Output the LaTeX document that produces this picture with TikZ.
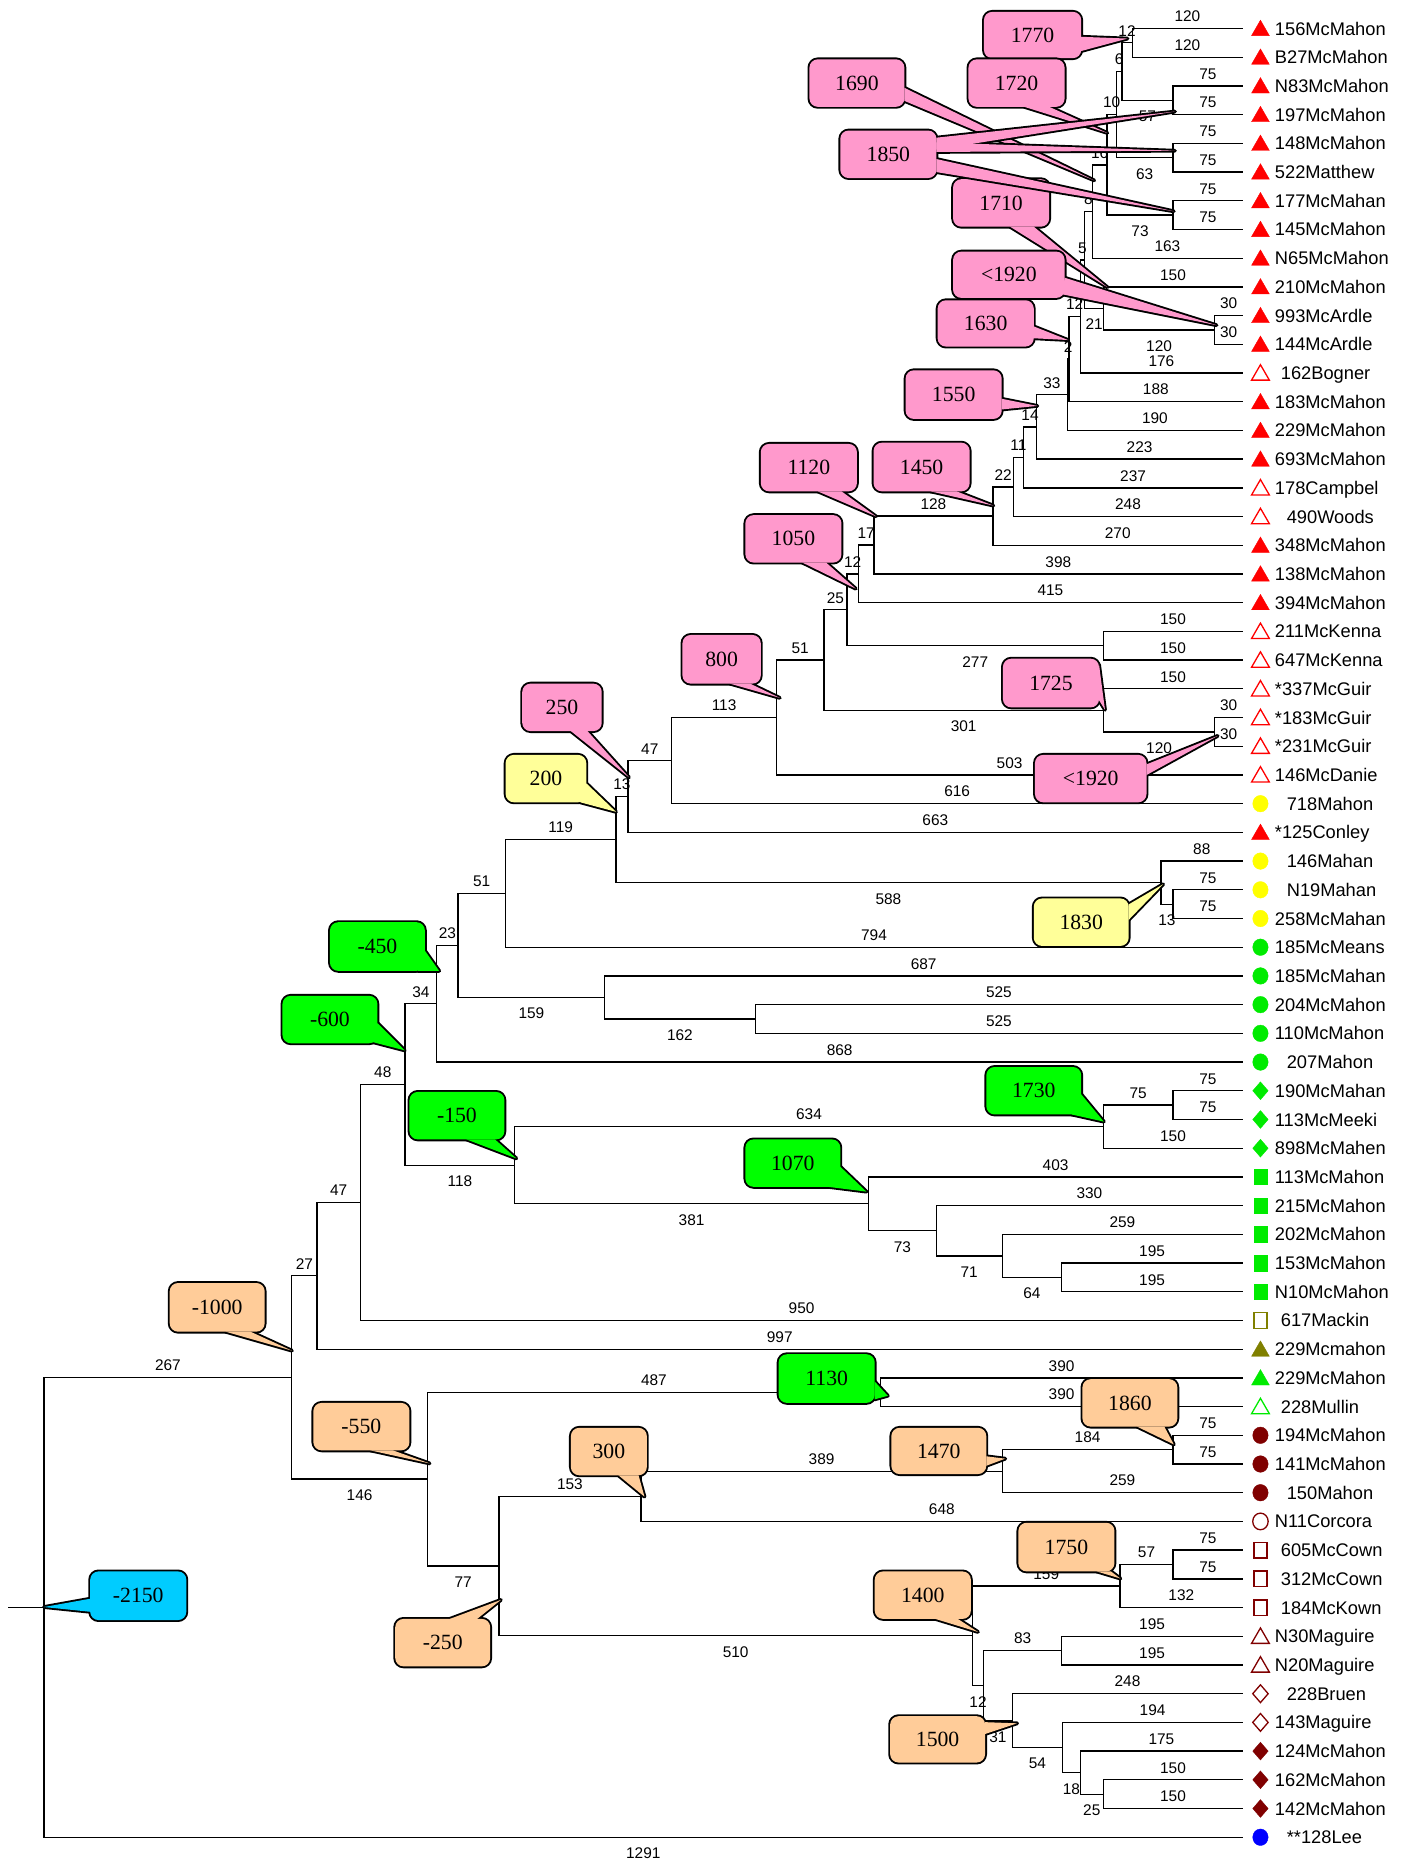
\documentclass[tikz,border=0pt]{standalone}
\usepackage{fontspec}
\setmainfont{Liberation Sans}
\newfontfamily\cserif{Liberation Serif}
\usetikzlibrary{calc}
\definecolor{tred}{RGB}{255,0,0}
\definecolor{dred}{RGB}{128,0,0}
\definecolor{olv}{RGB}{128,128,0}
\definecolor{symg}{RGB}{0,235,0}
\definecolor{yel}{RGB}{255,255,0}
\definecolor{pinkc}{RGB}{255,153,204}
\definecolor{yelc}{RGB}{255,255,153}
\definecolor{greenc}{RGB}{0,255,0}
\definecolor{peach}{RGB}{255,204,153}
\definecolor{cyanc}{RGB}{0,204,255}
\tikzset{
  br/.style={line width=1.1pt, draw=black},
  lab/.style={font=\fontsize{13}{14}\selectfont, inner sep=0pt},
  leaf/.style={font=\fontsize{15.4}{17}\selectfont, inner sep=0pt, anchor=base west},
  cline/.style={line width=3.2pt, line join=round, draw=black},
  ctext/.style={font={\cserif\fontsize{18.3}{20}\selectfont}, inner sep=0pt},
  symFR/.style={fill=tred, draw=tred, line width=.3pt},
  symOR/.style={draw=tred, fill=white, line width=1.1pt},
  symY/.style={fill=yel, draw=yel, line width=.3pt},
  symG/.style={fill=symg, draw=symg, line width=.3pt},
  symGO/.style={draw=symg, fill=white, line width=1.1pt},
  symOL/.style={draw=olv, fill=white, line width=1.1pt},
  symOLF/.style={fill=olv, draw=olv, line width=.3pt},
  symDR/.style={fill=dred, draw=dred, line width=.3pt},
  symDRO/.style={draw=dred, fill=white, line width=1.1pt},
  symB/.style={fill=blue, draw=blue, line width=.3pt}
}
\newcounter{bl}
\newcommand\BA[3]{\stepcounter{bl}\draw[br] (#1) |- node[lab,pos=.75,above=5pt] (bl\thebl) {#3} (#2);}
\newcommand\BB[3]{\stepcounter{bl}\draw[br] (#1) |- node[lab,pos=.75,below=8.5pt] (bl\thebl) {#3} (#2);}
\newcommand\sTri[2]{\draw[#2,shift={(#1)}] (7.5,6) -- (22.5,6) -- (15,-7) -- cycle;}
\newcommand\sCir[2]{\draw[#2,shift={(#1)}] (15,0) ellipse [x radius=6.5pt,y radius=7pt];}
\newcommand\sSq[2]{\draw[#2,shift={(#1)}] (9.5,-6.5) rectangle (20.5,6.5);}
\newcommand\sDia[2]{\draw[#2,shift={(#1)}] (15,-7.5) -- (21.5,0) -- (15,7.5) -- (8.5,0) -- cycle;}
\newcommand\lf[5]{\node[leaf] (t#1) at ([xshift=#2pt,yshift=-5.5pt]L#1) {#3}; #4{L#1}{#5}}
\newcommand\CB[3]{\draw[cline,fill=#1,rounded corners=7pt] (#2) rectangle (#3);}
\newcommand\CBF[3]{\fill[#1,rounded corners=7pt] (#2) rectangle (#3);}
\newcommand\CW[4]{\draw[cline,fill=#1] (#2) -- (#3) -- (#4) -- cycle;}
\newcommand\CWF[4]{\fill[#1] (#2) -- (#3) -- (#4) -- cycle;}
\newcommand\CO[8]{\CB{#1}{#2}{#3}\CW{#1}{#4}{#5}{#6}\CBF{#1}{#2}{#3}\CWF{#1}{#4}{#5}{#6}\node[ctext] (#7) at ($(#2)!.5!(#3)$) {#8};}
\begin{document}
\begin{tikzpicture}[x=1pt,y=-1pt]
\path[use as bounding box, fill=white] (0,0) rectangle (1186,1568);
\begin{scope}[shift={(37,-0.19)}, x=0.78234pt, y=-24.19pt]
\foreach \i in {1,...,64}{\coordinate (L\i) at (1291,\i);}
\coordinate (rs) at (-38.35,55.993);
\coordinate (root) at (0,55.993);
\coordinate (a1000) at (267,47.986);
\coordinate (a27) at (294,44.445);
\coordinate (a47b) at (341,41.891);
\coordinate (a600) at (389,37.781);
\coordinate (a34) at (423,34.969);
\coordinate (a23) at (446,32.938);
\coordinate (a51b) at (497,31.125);
\coordinate (a119) at (616,29.25);
\coordinate (a13) at (629,27.75);
\coordinate (a47) at (676,26.5);
\coordinate (a800) at (789,25);
\coordinate (a51) at (840,22.999);
\coordinate (a25) at (865,21.248);
\coordinate (a12c) at (877,19.996);
\coordinate (a17) at (894,18.992);
\coordinate (a128) at (1022,17.985);
\coordinate (a22) at (1044,16.970);
\coordinate (a11) at (1055,15.939);
\coordinate (a14) at (1069,14.879);
\coordinate (a33) at (1102,13.758);
\coordinate (a2) at (1104,12.516);
\coordinate (a12b) at (1116,11.031);
\coordinate (a5) at (1121,9.0625);
\coordinate (a8) at (1129,7.375);
\coordinate (a16) at (1145,5.75);
\coordinate (a10) at (1155,4);
\coordinate (a6) at (1161,2.5);
\coordinate (a12) at (1172,1.5);
\coordinate (a75a) at (1216,3.5);
\coordinate (a75b) at (1216,5.5);
\coordinate (a75c) at (1216,7.5);
\coordinate (a21) at (1141,10.75);
\coordinate (aMcA) at (1261,11.5);
\coordinate (aMcK) at (1141,22.5);
\coordinate (a1725) at (1141,24.75);
\coordinate (aMcG) at (1261,25.5);
\coordinate (a1830) at (1203,30.75);
\coordinate (a13b) at (1216,31.5);
\coordinate (a159) at (604,34.75);
\coordinate (a162) at (766,35.5);
\coordinate (a150) at (507,40.594);
\coordinate (a1730) at (1141,39.25);
\coordinate (a75d) at (1216,38.5);
\coordinate (a1070) at (888,41.938);
\coordinate (a73) at (961,42.875);
\coordinate (a71) at (1032,43.75);
\coordinate (a64) at (1096,44.5);
\coordinate (a550) at (413,51.527);
\coordinate (a1130) at (901,48.5);
\coordinate (a77) at (490,54.555);
\coordinate (a300) at (643,52.125);
\coordinate (a1470) at (1032,51.25);
\coordinate (a1860) at (1216,50.5);
\coordinate (a1400) at (1000,56.984);
\coordinate (a1750) at (1159,55.25);
\coordinate (a57) at (1216,54.5);
\coordinate (a12d) at (1012,58.719);
\coordinate (a83) at (1096,57.5);
\coordinate (a31) at (1043,59.938);
\coordinate (a54) at (1097,60.875);
\coordinate (a18) at (1116,61.75);
\coordinate (a25b) at (1141,62.5);
\draw[br] (rs) -- (root);
\BA{a12}{L1}{120} \BA{a12}{L2}{120}
\BA{a6}{a12}{12}
\BA{a75a}{L3}{75} \BA{a75a}{L4}{75}
\BB{a6}{a75a}{57}
\BA{a10}{a6}{6}
\BA{a75b}{L5}{75} \BA{a75b}{L6}{75}
\BB{a10}{a75b}{63}
\BA{a16}{a10}{10}
\BA{a75c}{L7}{75} \BA{a75c}{L8}{75}
\BB{a16}{a75c}{73}
\BA{a8}{a16}{16}
\BA{a8}{L9}{163}
\BA{a5}{a8}{8}
\BA{a21}{L10}{150}
\BA{aMcA}{L11}{30} \BA{aMcA}{L12}{30}
\BB{a21}{aMcA}{120}
\BB{a5}{a21}{21}
\BA{a12b}{a5}{5}
\BA{a12b}{L13}{176}
\BA{a2}{a12b}{12}
\BA{a2}{L14}{188}
\BA{a33}{a2}{2}
\BA{a33}{L15}{190}
\BA{a14}{a33}{33}
\BA{a14}{L16}{223}
\BA{a11}{a14}{14}
\BA{a11}{L17}{237}
\BA{a22}{a11}{11}
\BA{a22}{L18}{248}
\BA{a128}{a22}{22}
\BA{a128}{L19}{270}
\BA{a17}{a128}{128}
\BA{a17}{L20}{398}
\BA{a12c}{a17}{17}
\BA{a12c}{L21}{415}
\BA{a25}{a12c}{12}
\BA{aMcK}{L22}{150} \BA{aMcK}{L23}{150}
\BB{a25}{aMcK}{277}
\BA{a51}{a25}{25}
\BA{a1725}{L24}{150}
\BA{aMcG}{L25}{30} \BA{aMcG}{L26}{30}
\BB{a1725}{aMcG}{120}
\BB{a51}{a1725}{301}
\BA{a800}{a51}{51}
\BA{a800}{L27}{503}
\BA{a47}{a800}{113}
\BA{a47}{L28}{616}
\BA{a13}{a47}{47}
\BA{a13}{L29}{663}
\BA{a119}{a13}{13}
\BA{a1830}{L30}{88}
\BA{a13b}{L31}{75} \BA{a13b}{L32}{75}
\BB{a1830}{a13b}{13}
\BB{a119}{a1830}{588}
\BA{a51b}{a119}{119}
\BA{a51b}{L33}{794}
\BA{a23}{a51b}{51}
\BA{a159}{L34}{687}
\BA{a162}{L35}{525} \BA{a162}{L36}{525}
\BB{a159}{a162}{162}
\BB{a23}{a159}{159}
\BA{a34}{a23}{23}
\BA{a34}{L37}{868}
\BA{a600}{a34}{34}
\BA{a75d}{L38}{75} \BA{a75d}{L39}{75}
\BA{a1730}{a75d}{75}
\BA{a1730}{L40}{150}
\BA{a150}{a1730}{634}
\BA{a1070}{L41}{403}
\BA{a73}{L42}{330}
\BA{a71}{L43}{259}
\BA{a64}{L44}{195} \BA{a64}{L45}{195}
\BB{a71}{a64}{64}
\BB{a73}{a71}{71}
\BB{a1070}{a73}{73}
\BB{a150}{a1070}{381}
\BB{a600}{a150}{118}
\BA{a47b}{a600}{48}
\BA{a47b}{L46}{950}
\BA{a27}{a47b}{47}
\BA{a27}{L47}{997}
\BA{a1000}{a27}{27}
\BA{a1130}{L48}{390} \BA{a1130}{L49}{390}
\BA{a550}{a1130}{487}
\BA{a1860}{L50}{75} \BA{a1860}{L51}{75}
\BA{a1470}{a1860}{184}
\BA{a1470}{L52}{259}
\BA{a300}{a1470}{389}
\BA{a300}{L53}{648}
\BA{a77}{a300}{153}
\BA{a57}{L54}{75} \BA{a57}{L55}{75}
\BA{a1750}{a57}{57}
\BA{a1750}{L56}{132}
\BA{a1400}{a1750}{159}
\BA{a83}{L57}{195} \BA{a83}{L58}{195}
\BA{a12d}{a83}{83}
\BA{a31}{L59}{248}
\BA{a54}{L60}{194}
\BA{a18}{L61}{175}
\BA{a25b}{L62}{150} \BA{a25b}{L63}{150}
\BB{a18}{a25b}{25}
\BB{a54}{a18}{18}
\BB{a31}{a54}{54}
\BB{a12d}{a31}{31}
\BB{a1400}{a12d}{12}
\BB{a77}{a1400}{510}
\BB{a550}{a77}{77}
\BB{a1000}{a550}{146}
\BA{root}{a1000}{267}
\BB{root}{L64}{1291}
\end{scope}
% leaves
\lf{1}{27}{156McMahon}{\sTri}{symFR}
\lf{2}{27}{B27McMahon}{\sTri}{symFR}
\lf{3}{27}{N83McMahon}{\sTri}{symFR}
\lf{4}{27}{197McMahon}{\sTri}{symFR}
\lf{5}{27}{148McMahon}{\sTri}{symFR}
\lf{6}{27}{522Matthew}{\sTri}{symFR}
\lf{7}{27}{177McMahan}{\sTri}{symFR}
\lf{8}{27}{145McMahon}{\sTri}{symFR}
\lf{9}{27}{N65McMahon}{\sTri}{symFR}
\lf{10}{27}{210McMahon}{\sTri}{symFR}
\lf{11}{27}{993McArdle}{\sTri}{symFR}
\lf{12}{27}{144McArdle}{\sTri}{symFR}
\lf{13}{32}{162Bogner}{\sTri}{symOR}
\lf{14}{27}{183McMahon}{\sTri}{symFR}
\lf{15}{27}{229McMahon}{\sTri}{symFR}
\lf{16}{27}{693McMahon}{\sTri}{symFR}
\lf{17}{27}{178Campbel}{\sTri}{symOR}
\lf{18}{37}{490Woods}{\sTri}{symOR}
\lf{19}{27}{348McMahon}{\sTri}{symFR}
\lf{20}{27}{138McMahon}{\sTri}{symFR}
\lf{21}{27}{394McMahon}{\sTri}{symFR}
\lf{22}{27}{211McKenna}{\sTri}{symOR}
\lf{23}{27}{647McKenna}{\sTri}{symOR}
\lf{24}{27}{*337McGuir}{\sTri}{symOR}
\lf{25}{27}{*183McGuir}{\sTri}{symOR}
\lf{26}{27}{*231McGuir}{\sTri}{symOR}
\lf{27}{27}{146McDanie}{\sTri}{symOR}
\lf{28}{37}{718Mahon}{\sCir}{symY}
\lf{29}{27}{*125Conley}{\sTri}{symFR}
\lf{30}{37}{146Mahan}{\sCir}{symY}
\lf{31}{37}{N19Mahan}{\sCir}{symY}
\lf{32}{27}{258McMahan}{\sCir}{symY}
\lf{33}{27}{185McMeans}{\sCir}{symG}
\lf{34}{27}{185McMahan}{\sCir}{symG}
\lf{35}{27}{204McMahon}{\sCir}{symG}
\lf{36}{27}{110McMahon}{\sCir}{symG}
\lf{37}{37}{207Mahon}{\sCir}{symG}
\lf{38}{27}{190McMahan}{\sDia}{symG}
\lf{39}{27}{113McMeeki}{\sDia}{symG}
\lf{40}{27}{898McMahen}{\sDia}{symG}
\lf{41}{27}{113McMahon}{\sSq}{symG}
\lf{42}{27}{215McMahon}{\sSq}{symG}
\lf{43}{27}{202McMahon}{\sSq}{symG}
\lf{44}{27}{153McMahon}{\sSq}{symG}
\lf{45}{27}{N10McMahon}{\sSq}{symG}
\lf{46}{32}{617Mackin}{\sSq}{symOL}
\lf{47}{27}{229Mcmahon}{\sTri}{symOLF}
\lf{48}{27}{229McMahon}{\sTri}{symG}
\lf{49}{32}{228Mullin}{\sTri}{symGO}
\lf{50}{27}{194McMahon}{\sCir}{symDR}
\lf{51}{27}{141McMahon}{\sCir}{symDR}
\lf{52}{37}{150Mahon}{\sCir}{symDR}
\lf{53}{27}{N11Corcora}{\sCir}{symDRO}
\lf{54}{32}{605McCown}{\sSq}{symDRO}
\lf{55}{32}{312McCown}{\sSq}{symDRO}
\lf{56}{32}{184McKown}{\sSq}{symDRO}
\lf{57}{27}{N30Maguire}{\sTri}{symDRO}
\lf{58}{27}{N20Maguire}{\sTri}{symDRO}
\lf{59}{37}{228Bruen}{\sDia}{symDRO}
\lf{60}{27}{143Maguire}{\sDia}{symDRO}
\lf{61}{27}{124McMahon}{\sDia}{symDR}
\lf{62}{27}{162McMahon}{\sDia}{symDR}
\lf{63}{27}{142McMahon}{\sDia}{symDR}
\lf{64}{37}{**128Lee}{\sCir}{symB}
% callouts
\CO{pinkc}{829,10}{911,49}{911,31}{950,32.5}{911,43}{c1770}{1770}
\CO{pinkc}{682,50}{762,90}{762,74}{922,152}{762,85}{c1690}{1690}
\CO{pinkc}{816,50}{897,90}{863,90}{933,112}{884,90}{c1720}{1720}
\CO{pinkc}{803,151}{884,191}{851,191}{933,242}{871,191}{c1710}{1710}
\CB{pinkc}{708,110}{789,150}
\CW{pinkc}{789,116}{990,94}{789,126}
\CW{pinkc}{789,120}{990,127}{789,128}
\CW{pinkc}{789,134}{989,178}{789,145}
\CBF{pinkc}{708,110}{789,150}
\CWF{pinkc}{789,116}{990,94}{789,126}
\CWF{pinkc}{789,120}{990,127}{789,128}
\CWF{pinkc}{789,134}{989,178}{789,145}
\node[ctext] (c1850) at (748.5,130) {1850};
\CO{pinkc}{803,212}{897,251}{897,234}{1025,274}{895,248}{c1920a}{<1920}
\CO{pinkc}{790,253}{871,292}{871,275}{900,286.5}{871,285}{c1630}{1630}
\CO{pinkc}{763,312}{844,353}{844,336}{874,342}{844,345}{c1550}{1550}
\CO{pinkc}{641,374}{722,414}{689,414}{738,435}{709,414}{c1120}{1120}
\CO{pinkc}{736,373}{817,414}{784,414}{837,426}{806,414}{c1450}{1450}
\CO{pinkc}{628,434}{709,474}{676,474}{721,496}{696,474}{c1050}{1050}
\CO{pinkc}{575,535}{641,576}{615,576}{657,588}{632,576}{c800}{800}
\CO{pinkc}{845,555}{926,596}{926,560}{931,598}{926,590}{c1725}{1725}
\CO{pinkc}{872,636}{966,676}{966,644}{1026,620}{966,653}{c1920b}{<1920}
\CO{pinkc}{440,576}{507,616}{481,616}{530,655}{495,616}{c250}{250}
\CO{yelc}{426,636}{494,676}{494,660}{519,684}{489,676}{c200}{200}
\CO{yelc}{871,757}{951,797}{951,762}{980,745}{951,775}{c1830}{1830}
\CO{greenc}{278,777}{358,818}{358,801}{370,818}{352,818}{cm450}{-450}
\CO{greenc}{238,839}{318,879}{318,862}{341,885}{314,878}{cm600}{-600}
\CO{greenc}{345,920}{425,960}{393,960}{435,976}{417,960}{cm150}{-150}
\CO{greenc}{831,899}{911,939}{911,922}{930,945}{903,939}{c1730}{1730}
\CO{greenc}{628,960}{708,1000}{708,983}{730,1004}{698,1000}{c1070}{1070}
\CO{greenc}{656,1141}{737,1182}{737,1164}{748,1176}{737,1179}{c1130}{1130}
\CO{peach}{912,1162}{992,1202}{958,1202}{989,1217}{981,1202}{c1860}{1860}
\CO{peach}{751,1203}{831,1242}{831,1227}{847,1229}{831,1235}{c1470}{1470}
\CO{peach}{481,1203}{545,1243}{521,1243}{543,1261}{538,1243}{c300}{300}
\CO{peach}{264,1182}{345,1222}{312,1222}{362,1233}{331,1222}{cm550}{-550}
\CO{peach}{143,1081}{223,1122}{190,1122}{246,1138}{211,1122}{cm1000}{-1000}
\CO{cyanc}{76,1324}{157,1365}{76,1347}{37,1354}{76,1358}{cm2150}{-2150}
\CO{peach}{333,1364}{413,1404}{379,1364}{422,1348}{402,1364}{cm250}{-250}
\CO{peach}{858,1283}{939,1324}{924,1324}{944,1330}{936,1324}{c1750}{1750}
\CO{peach}{737,1324}{818,1364}{788,1364}{824,1375}{807,1364}{c1400}{1400}
\CO{peach}{750,1446}{830,1485}{830,1451}{857,1452}{830,1461}{c1500}{1500}
\end{tikzpicture}
\end{document}
